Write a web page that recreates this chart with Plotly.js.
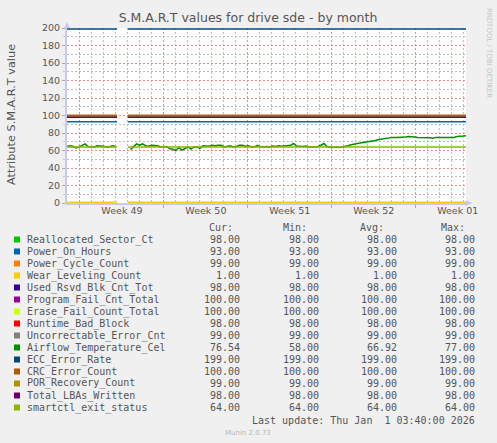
<!DOCTYPE html>
<html><head><meta charset="utf-8">
<script src="https://cdn.plot.ly/plotly-3.0.1.min.js"></script>
<style>html,body{margin:0;padding:0;background:#F0F0F0;overflow:hidden}#chart{width:497px;height:443px}</style>
</head><body><div id="chart"></div>
<script>
// ---------- data ----------
const seriesNames = ['Reallocated_Sector_Ct','Power_On_Hours','Power_Cycle_Count','Wear_Leveling_Count',
  'Used_Rsvd_Blk_Cnt_Tot','Program_Fail_Cnt_Total','Erase_Fail_Count_Total','Runtime_Bad_Block',
  'Uncorrectable_Error_Cnt','Airflow_Temperature_Cel','ECC_Error_Rate','CRC_Error_Count',
  'POR_Recovery_Count','Total_LBAs_Written','smartctl_exit_status'];
const seriesColors = ['#00CC00','#0066B3','#FF8000','#FFCC00','#330099','#990099','#CCFF00','#FF0000',
  '#808080','#008F00','#00487D','#B35A00','#B38F00','#6B006B','#8FB300'];
const curValues = [98,93,99,1,98,100,100,98,99,76.54,199,100,99,98,64];
const minValues = [98,93,99,1,98,100,100,98,99,58,199,100,99,98,64];
const avgValues = [98,93,99,1,98,100,100,98,99,66.92,199,100,99,98,64];
const maxValues = [98,93,99,1,98,100,100,98,99,77,199,100,99,98,64];
const temperatureIndex = 9;
// Airflow_Temperature_Cel, sampled evenly over the month (null = no data)
const tempValues = [
  64.5,65.5,65,63,64,66,67.5,64.5,64,64,65.5,65.5,65,64,64,65.5,65,
  null,null,null,null,
  61,64.5,67.5,66,67.5,65.5,65,66,66,65.5,64,64,64.5,62,61.5,60,63.5,60.5,62,64,
  61.5,64,64,62.5,65.5,65.5,65,66,65.5,66,66,64,64.5,65.5,64,64.5,66,66,65,65.5,
  64,64,66,64,64,64.5,64,65,64.5,65.5,65,65.5,65.5,66,68,65,65,64.5,65,64,
  64,64,64.5,66,68,64.5,64,63.5,64,63.5,64,64.5,65.5,66.5,67.5,68,68.5,69,69.5,70.5,
  71,71.5,72.5,73,73.5,74.5,74.5,75,75,75,75,75.5,76,76,75.5,75,75,75,75,74.5,
  74,75,75,75,75,75,75,75,76,76,76.5,77];
// time axis in days relative to the start of week 49
const timeStart = -1.08, timeEnd = 32.19;
const gapStart = 3.09, gapEnd = 4.0;
const weekStarts = [0,7,14,21,28];
const weekLabelPos = [3.5,10.5,17.5,24.5,31.5];
const weekLabels = ['Week 49','Week 50','Week 51','Week 52','Week 01'];
const titleText = 'S.M.A.R.T values for drive sde - by month';
const yTitle = 'Attribute S.M.A.R.T value';
const lastUpdate = 'Last update: Thu Jan \u00A01 03:40:00 2026';

// ---------- geometry ----------
const W=497,H=443,L=67,R=31,T=28,B=240;
const pw=W-L-R, ph=H-T-B;
const px = x => (x-L)/pw;
const py = y => (H-B-y)/ph;
const TXT='#555555';
const FONT='DejaVu Sans, sans-serif';
const MONO='DejaVu Sans Mono, monospace';
const MGRID='#f08a8a';
const GRID='#bdbdbd';
const DASH='2px,2px';

// ---------- traces ----------
const traces = [];
const tempTimes = tempValues.map((v,i)=> timeStart + i*(timeEnd-timeStart)/(tempValues.length-1));
seriesNames.forEach((name,k)=>{
  let x,y;
  if(k===temperatureIndex){ x=tempTimes; y=tempValues; }
  else {
    const v=curValues[k];
    x=[timeStart,gapStart,gapStart,gapEnd,timeEnd];
    y=[v,v,null,v,v];
  }
  traces.push({type:'scatter',mode:'lines',name:name,x:x,y:y,
    line:{color:seriesColors[k],width:1.5},connectgaps:false,hoverinfo:'skip',showlegend:false});
});
traces.push({type:'scatter',mode:'lines',x:[timeStart,timeEnd],y:[null,null],xaxis:'x2',yaxis:'y',
  showlegend:false,hoverinfo:'skip'});

// ---------- legend as text ----------
const ann=[];
const shapes=[];
const rowY0=239.5, rowH=12;
const colRight=[242,321,399,477];
const headRight=[235,309,386,467];
['Cur:','Min:','Avg:','Max:'].forEach((h,j)=>ann.push({xref:'paper',yref:'paper',x:px(headRight[j]),y:py(227.5),
  xanchor:'right',yanchor:'middle',text:h,showarrow:false,font:{family:MONO,size:10,color:TXT}}));
seriesNames.forEach((name,k)=>{
  const yy=rowY0+k*rowH;
  shapes.push({type:'rect',xref:'paper',yref:'paper',x0:px(14),x1:px(20),y0:py(yy-3),y1:py(yy+3),
    fillcolor:seriesColors[k],line:{width:0}});
  ann.push({xref:'paper',yref:'paper',x:px(25),y:py(yy),xanchor:'left',yanchor:'middle',text:name,
    showarrow:false,font:{family:MONO,size:10,color:TXT}});
  [curValues,minValues,avgValues,maxValues].forEach((arr,j)=>{
    ann.push({xref:'paper',yref:'paper',x:px(colRight[j]),y:py(yy),xanchor:'right',yanchor:'middle',
      text:arr[k].toFixed(2),showarrow:false,font:{family:MONO,size:10,color:TXT}});
  });
});
ann.push({xref:'paper',yref:'paper',x:px(477),y:py(420),xanchor:'right',yanchor:'middle',text:lastUpdate,
  showarrow:false,font:{family:MONO,size:10,color:TXT}});
ann.push({xref:'paper',yref:'paper',x:px(248),y:py(432.5),xanchor:'center',yanchor:'middle',text:'Munin 2.0.73',
  showarrow:false,font:{family:FONT,size:7,color:'#b8b8b8'}});
ann.push({xref:'paper',yref:'paper',x:px(489),y:py(53),xanchor:'center',yanchor:'middle',text:'RRDTOOL / TOBI OETIKER',
  textangle:90,showarrow:false,font:{family:FONT,size:7,color:'#c4c4c4'}});
ann.push({xref:'paper',yref:'paper',x:px(11),y:py(115),xanchor:'center',yanchor:'middle',text:yTitle,
  textangle:-90,showarrow:false,font:{family:FONT,size:11.3,color:TXT}});

// axis arrows
const AX='#c8c8f4';
shapes.push({type:'path',xref:'paper',yref:'paper',
  path:`M ${px(64)} ${py(28)} L ${px(70)} ${py(28)} L ${px(67)} ${py(22)} Z`,fillcolor:AX,line:{width:0}});
shapes.push({type:'path',xref:'paper',yref:'paper',
  path:`M ${px(466)} ${py(200)} L ${px(466)} ${py(206)} L ${px(472)} ${py(203)} Z`,fillcolor:AX,line:{width:0}});

const layout={
  width:W,height:H,margin:{l:L,r:R,t:T,b:B,pad:0},
  paper_bgcolor:'#F0F0F0',plot_bgcolor:'#FFFFFF',
  showlegend:false,
  title:{text:titleText,x:248/W,xanchor:'center',y:1-18/H,yanchor:'middle',font:{family:FONT,size:12.5,color:TXT}},
  xaxis:{range:[timeStart,timeEnd],tickmode:'array',tickvals:weekStarts,showticklabels:false,
    ticks:'outside',ticklen:3,tickcolor:MGRID,
    showgrid:true,gridcolor:MGRID,griddash:DASH,gridwidth:1,zeroline:false,
    showline:true,linecolor:AX,linewidth:2,
    minor:{tick0:0,dtick:1,showgrid:true,gridcolor:GRID,griddash:DASH,gridwidth:1,ticks:''}},
  xaxis2:{range:[timeStart,timeEnd],overlaying:'x',anchor:'y',side:'bottom',tickmode:'array',
    tickvals:weekLabelPos,ticktext:weekLabels,showgrid:false,zeroline:false,ticks:'',showline:false,
    tickfont:{family:FONT,size:9.5,color:TXT}},
  yaxis:{range:[0,200],tickmode:'linear',tick0:0,dtick:20,ticks:'outside',ticklen:3,tickcolor:'#aaaaaa',
    showgrid:true,gridcolor:MGRID,griddash:DASH,gridwidth:1,zeroline:false,
    showline:true,linecolor:AX,linewidth:2,
    tickfont:{family:FONT,size:9.5,color:TXT},
    minor:{tick0:0,dtick:10,showgrid:true,gridcolor:GRID,griddash:DASH,gridwidth:1,ticks:'outside',ticklen:2,tickcolor:'#cccccc'}},
  annotations:ann,shapes:shapes
};
Plotly.newPlot('chart',traces,layout,{staticPlot:true,displayModeBar:false});
</script></body></html>
